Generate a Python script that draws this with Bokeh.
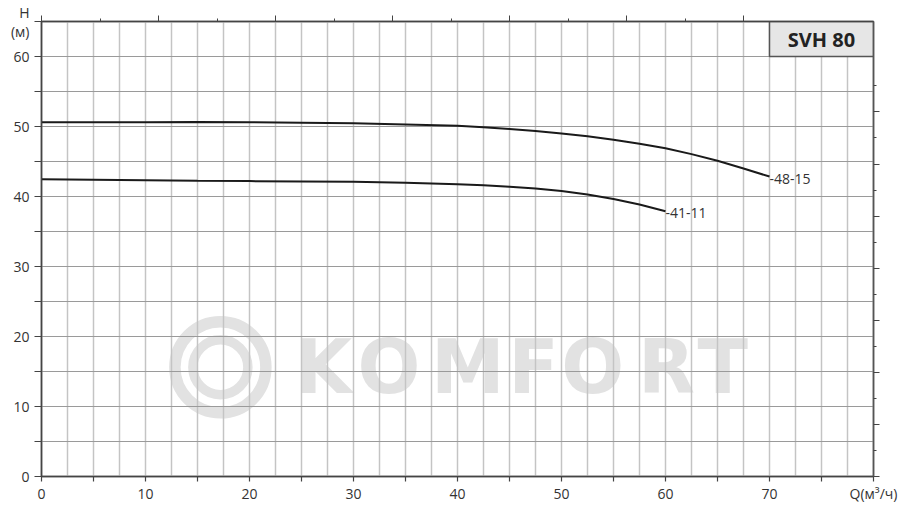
from bokeh.plotting import figure
from bokeh.models import FixedTicker, LinearAxis, Range1d, CustomJSTickFormatter
from bokeh.core.properties import value
from bokeh.embed import file_html
from bokeh.resources import INLINE

# ---- data ----
q_48_15 = [0, 5, 10, 15, 20, 25, 30, 35, 40, 42.5, 45, 47.5, 50, 52.5, 55, 57.5, 60, 62.5, 65, 67.5, 70]
h_48_15 = [50.6, 50.62, 50.62, 50.63, 50.62, 50.55, 50.45, 50.3, 50.1, 49.9, 49.65, 49.35, 49.0,
           48.6, 48.1, 47.55, 46.9, 46.05, 45.1, 44.0, 42.85]
q_41_11 = [0, 5, 10, 15, 20, 25, 30, 35, 40, 42.5, 45, 47.5, 50, 52.5, 55, 57.5, 60]
h_41_11 = [42.45, 42.4, 42.32, 42.25, 42.2, 42.15, 42.1, 41.95, 41.75, 41.6, 41.4, 41.15, 40.8,
           40.3, 39.65, 38.85, 37.9]
curve_names = ["-48-15", "-41-11"]

x_ticks = list(range(0, 85, 5))
x_labels = {5: "", 15: "", 25: "", 35: "", 45: "", 55: "", 65: "", 75: "", 80: "Q(м³/ч)"}
y_ticks = list(range(0, 70, 5))
y_labels = {5: "", 15: "", 25: "", 35: "", 45: "", 55: "", 65: "H\n(м)"}
x_grid = [i * 2.5 for i in range(0, 33)]
y_grid = list(range(0, 70, 5))
top_major = [0, 11.25, 22.5, 33.75, 45, 56.25, 67.5]
top_minor = [5.625, 16.875, 28.125, 39.375, 50.625, 61.875]
right_major = [0, 7.44, 14.88, 22.32, 29.76, 37.2, 44.64, 52.08]
right_minor = [3.72, 11.16, 18.6, 26.04, 33.48, 40.92, 48.36, 55.8]
title_text = "SVH 80"
watermark_letters = ["K", "O", "M", "F", "O", "R", "T"]

FONT = "Open Sans"
TXT = "#333333"

p = figure(width=908, height=505, x_range=Range1d(0, 80), y_range=Range1d(0, 65),
           output_backend="svg", toolbar_location=None,
           min_border_left=41, min_border_right=35, min_border_top=21, min_border_bottom=29)
p.background_fill_color = "white"
p.border_fill_color = "white"
p.outline_line_color = "#555555"
p.outline_line_width = 1.5

# grids
p.xgrid.ticker = FixedTicker(ticks=x_grid, minor_ticks=[])
p.ygrid.ticker = FixedTicker(ticks=y_grid, minor_ticks=[])
p.xgrid.grid_line_color = "#c4c4c4"
p.xgrid.grid_line_width = 1.5
p.ygrid.grid_line_color = "#9a9a9a"
p.ygrid.grid_line_width = 1.2

# bottom axis
xa = p.xaxis[0]
xa.ticker = FixedTicker(ticks=x_ticks, minor_ticks=[])
xa.major_label_overrides = x_labels
xa.axis_line_color = "#444444"
xa.axis_line_width = 1.5
xa.major_tick_line_color = "#444444"
xa.major_tick_line_width = 1.2
xa.major_tick_in = 0
xa.major_tick_out = 5
xa.major_label_standoff = 2
xa.major_label_text_font = FONT
xa.major_label_text_font_size = "14px"
xa.major_label_text_color = TXT

# left axis
ya = p.yaxis[0]
ya.ticker = FixedTicker(ticks=y_ticks, minor_ticks=[])
ya.major_label_overrides = y_labels
ya.axis_line_color = "#444444"
ya.axis_line_width = 1.5
ya.major_tick_line_color = "#444444"
ya.major_tick_line_width = 1.2
ya.major_tick_in = 0
ya.major_tick_out = 7
ya.major_label_standoff = 5
ya.major_label_text_font = FONT
ya.major_label_text_font_size = "14px"
ya.major_label_text_color = TXT
ya.major_label_text_line_height = 1.0

blank = CustomJSTickFormatter(code="return ''")

# top axis (secondary flow scale, no labels)
top = LinearAxis(ticker=FixedTicker(ticks=top_major, minor_ticks=top_minor),
                 formatter=blank, major_label_text_font_size="1px", major_label_text_color=None,
                 major_label_standoff=0,
                 axis_line_color="#444444", axis_line_width=1.5,
                 major_tick_line_color="#444444", minor_tick_line_color="#444444",
                 major_tick_in=0, major_tick_out=6, minor_tick_in=0, minor_tick_out=3)
p.add_layout(top, "above")

# right axis (secondary head scale, no labels)
right = LinearAxis(ticker=FixedTicker(ticks=right_major, minor_ticks=right_minor),
                   formatter=blank, major_label_text_font_size="1px", major_label_text_color=None,
                   major_label_standoff=0,
                   axis_line_color="#555555", axis_line_width=1.5,
                   major_tick_line_color="#444444", minor_tick_line_color="#444444",
                   major_tick_in=0, major_tick_out=6, minor_tick_in=0, minor_tick_out=3)
p.add_layout(right, "right")

# watermark (behind grid)
WM = "#e2e2e2"
wm_x = [27.1, 33.4, 41.0, 47.3, 53.0, 60.1, 65.5]
p.text(x=wm_x, y=[15.7] * 7, text=watermark_letters, text_font=value("DejaVu Sans"),
       text_font_style="bold", text_font_size="74px", text_color=WM, text_align="center",
       text_baseline="middle", level="image")
p.scatter(x=[17.2], y=[15.6], marker="circle", size=91, fill_color=None,
          line_color=WM, line_width=11.5, level="image")
p.scatter(x=[17.2], y=[15.6], marker="circle", size=55, fill_color=None,
          line_color=WM, line_width=9.5, level="image")

# curves
p.line(q_48_15, h_48_15, line_color="#1a1a1a", line_width=2)
p.line(q_41_11, h_41_11, line_color="#1a1a1a", line_width=2)
p.text(x=[q_48_15[-1], q_41_11[-1]], y=[h_48_15[-1], h_41_11[-1]], text=curve_names,
       text_font=value(FONT), text_font_size="14px", text_color=TXT,
       text_align="left", text_baseline="middle", y_offset=2)

# title box
p.quad(left=[70], right=[80], bottom=[60], top=[65], fill_color="#e6e6e6",
       line_color="#555555", line_width=1.5)
p.text(x=[75], y=[62.5], text=[title_text], text_font=value(FONT), text_font_style="bold",
       text_font_size="20px", text_color="#222222", text_align="center", text_baseline="middle")

open("out.html", "w").write(file_html(p, INLINE))
